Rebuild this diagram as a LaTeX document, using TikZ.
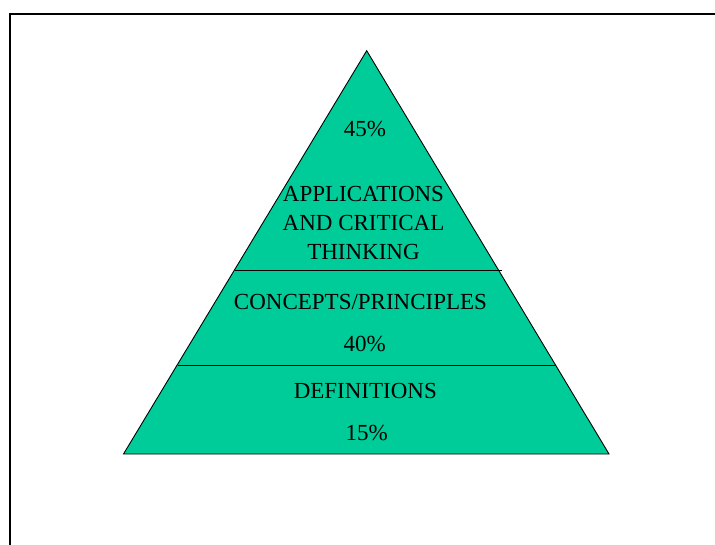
\documentclass[tikz,border=0pt]{standalone}
\usepackage{fontspec}
\setmainfont{Liberation Serif}
\definecolor{pyrgreen}{RGB}{0,204,153}
\begin{document}
\begin{tikzpicture}[x=1pt,y=-1pt,
  lbl/.style={anchor=base,inner sep=0pt,font=\fontsize{23}{28.5}\selectfont},
  frame/.style={line width=2.5pt},
  edge/.style={line width=0.9pt}]
\useasboundingbox (0,0) rectangle (715,544);
% frame (only top and left visible)
\draw[frame] (10,546) -- (10,14) -- (717,14);
% pyramid
\coordinate (apex) at (366.7,50.7);
\coordinate (bl) at (123.5,454);
\coordinate (br) at (609,454);
\filldraw[fill=pyrgreen,draw=black,edge] (apex) -- (br) -- (bl) -- cycle;
\coordinate (d1l) at (234.7,270);
\coordinate (d1r) at (502,270);
\coordinate (d2l) at (177.5,365);
\coordinate (d2r) at (555.5,365);
\draw[edge] (d1l) -- (d1r);
\draw[edge] (d2l) -- (d2r);
% labels
\node[lbl] (p45) at (365,136.7) {45\%};
\node[lbl] (app) at (363.5,201.7) {APPLICATIONS};
\node[lbl] (crit) at (363.5,230.7) {AND CRITICAL};
\node[lbl] (think) at (363.5,259.3) {THINKING};
\node[lbl] (conc) at (360.5,309) {CONCEPTS/PRINCIPLES};
\node[lbl] (p40) at (364.8,351) {40\%};
\node[lbl] (defs) at (365.3,398.3) {DEFINITIONS};
\node[lbl] (p15) at (366.7,440) {15\%};
\end{tikzpicture}
\end{document}
